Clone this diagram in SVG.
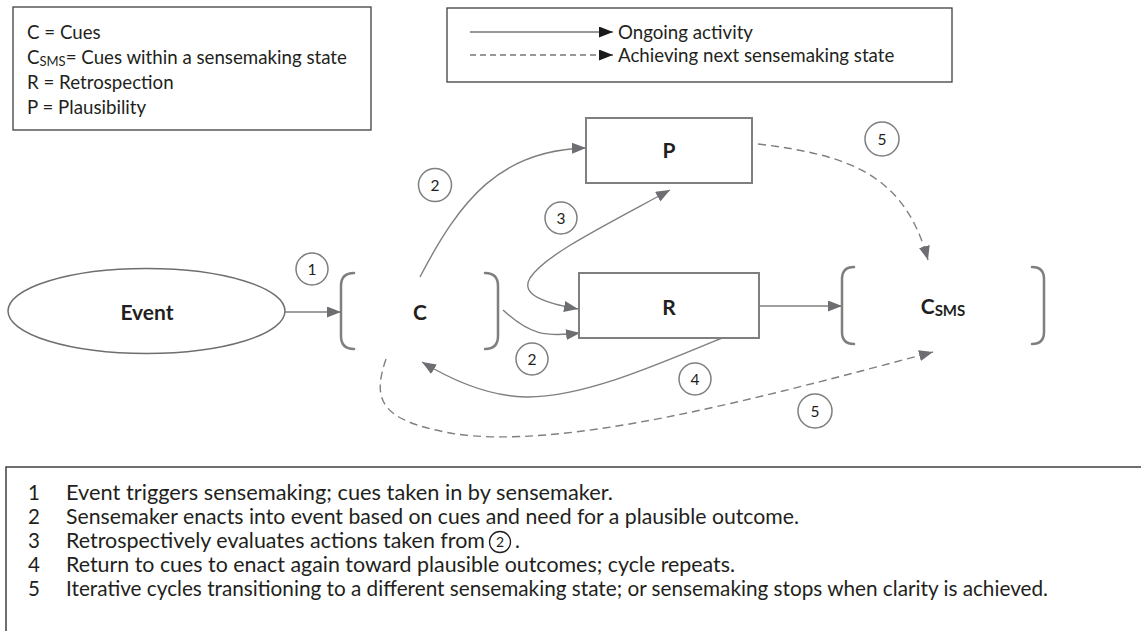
<svg xmlns="http://www.w3.org/2000/svg" width="1141" height="631" viewBox="0 0 1141 631">
<style>
text{font-family:"Lato","Liberation Sans",sans-serif;fill:#231f20}
.leg{font-size:18.7px}
.desc{font-size:20.5px}
.lbl{font-size:21px;font-weight:bold}
.num{font-size:15.5px}
.box{fill:none;stroke:#404040;stroke-width:1.3}
.node{fill:#fff;stroke:#7f7f7f;stroke-width:2}
.br{fill:none;stroke:#7f7f7f;stroke-width:2.5;stroke-linecap:round}
.c{fill:#fff;stroke:#7f7f7f;stroke-width:1.5}
.ln{fill:none;stroke:#7f7f7f;stroke-width:1.4}
.ln.d{stroke-dasharray:8 5}
.lg{fill:none;stroke:#333;stroke-width:1.2}
.ah{marker-end:url(#arr)}
</style>
<defs>
<marker id="arr" markerUnits="userSpaceOnUse" markerWidth="15" markerHeight="12" refX="14" refY="5.5" orient="auto-start-reverse">
<path d="M0,0 L14,5.5 L0,11 z" fill="#6d6e71"/>
</marker>
<marker id="arrk" markerUnits="userSpaceOnUse" markerWidth="15" markerHeight="12" refX="14" refY="5.5" orient="auto">
<path d="M0,0 L14,5.5 L0,11 z" fill="#1a1a1a"/>
</marker>
</defs>
<rect width="1141" height="631" fill="#fff"/>

<g id="legend-symbols">
<rect class="box" x="13" y="7" width="358" height="123"/>
<text class="leg" x="27" y="39">C = Cues</text>
<text class="leg" x="27" y="64">C<tspan font-size="13" dy="2">SMS</tspan><tspan dy="-2">= Cues within a sensemaking state</tspan></text>
<text class="leg" x="27" y="89">R = Retrospection</text>
<text class="leg" x="27" y="114">P = Plausibility</text>
</g>

<g id="legend-lines">
<rect class="box" x="447" y="8" width="505" height="74"/>
<path class="lg" d="M470,32 L613,32" marker-end="url(#arrk)"/>
<path class="lg" d="M470,55 L613,55" style="stroke-dasharray:6 4" marker-end="url(#arrk)"/>
<text class="leg" x="618" y="38.5">Ongoing activity</text>
<text class="leg" x="618" y="61.5">Achieving next sensemaking state</text>
</g>

<g id="connectors">
<path class="ln ah" d="M285,312 L341,312"/>
<path class="ln ah" d="M759,306 L842,306"/>
<path class="ln ah" d="M420,277 C460,200 500,150 586,148"/>
<path class="ln ah" d="M503,310 C530,335 545,337 580,333"/>
<path class="ln" d="M670,190 C600,228 545,255 530,278 C520,295 545,303 578,309" marker-start="url(#arr)" marker-end="url(#arr)"/>
<path class="ln ah" d="M722,338 C650,368 580,398 525,397 C490,396 455,382 422,362"/>
<path class="ln d ah" d="M758,144 C850,155 905,175 928,260"/>
<path class="ln d ah" d="M386,359 C372,400 380,420 450,433 C560,452 760,398 933,352"/>
</g>

<g id="event">
<ellipse cx="146.5" cy="311" rx="138.5" ry="42.5" fill="#fff" stroke="#6d6e71" stroke-width="1.5"/>
<text class="lbl" x="147" y="320" text-anchor="middle">Event</text>
</g>

<g id="cues">
<path class="br" d="M354,273 Q341,273 341,286 L341,336 Q341,349 354,349"/>
<path class="br" d="M485,273 Q498,273 498,286 L498,336 Q498,349 485,349"/>
<text class="lbl" x="420" y="320" text-anchor="middle">C</text>
</g>

<g id="plausibility">
<rect class="node" x="586" y="118" width="166" height="65"/>
<text class="lbl" x="669" y="158" text-anchor="middle">P</text>
</g>

<g id="retrospection">
<rect class="node" x="579" y="273" width="180" height="65"/>
<text class="lbl" x="669" y="315" text-anchor="middle">R</text>
</g>

<g id="csms">
<path class="br" d="M854,267 Q842,267 842,279 L842,332 Q842,344 854,344"/>
<path class="br" d="M1032,267 Q1044,267 1044,279 L1044,332 Q1044,344 1032,344"/>
<text class="lbl" x="943" y="314" text-anchor="middle">C<tspan font-size="15" dy="2">SMS</tspan></text>
</g>

<g id="step-1"><circle class="c" cx="312" cy="269" r="16"/><text class="num" x="312" y="274.5" text-anchor="middle">1</text></g>
<g id="step-2a"><circle class="c" cx="435" cy="185" r="16.5"/><text class="num" x="435" y="190.5" text-anchor="middle">2</text></g>
<g id="step-3"><circle class="c" cx="561" cy="218" r="16"/><text class="num" x="561" y="223.5" text-anchor="middle">3</text></g>
<g id="step-5a"><circle class="c" cx="882" cy="139" r="17"/><text class="num" x="882" y="144.5" text-anchor="middle">5</text></g>
<g id="step-2b"><circle class="c" cx="532" cy="359" r="16"/><text class="num" x="532" y="364.5" text-anchor="middle">2</text></g>
<g id="step-4"><circle class="c" cx="695" cy="379" r="16"/><text class="num" x="695" y="384.5" text-anchor="middle">4</text></g>
<g id="step-5b"><circle class="c" cx="815" cy="411" r="17"/><text class="num" x="815" y="416.5" text-anchor="middle">5</text></g>

<g id="description">
<rect x="6" y="467" width="1150" height="200" fill="none" stroke="#404040" stroke-width="1.5"/>
<text class="desc" x="28" y="500">1</text>
<text class="desc" x="66" y="500" textLength="547" lengthAdjust="spacingAndGlyphs">Event triggers sensemaking; cues taken in by sensemaker.</text>
<text class="desc" x="28" y="524">2</text>
<text class="desc" x="66" y="524" textLength="733" lengthAdjust="spacingAndGlyphs">Sensemaker enacts into event based on cues and need for a plausible outcome.</text>
<text class="desc" x="28" y="548">3</text>
<text class="desc" x="66" y="548" textLength="419" lengthAdjust="spacingAndGlyphs">Retrospectively evaluates actions taken from</text>
<circle cx="500" cy="542" r="10.5" fill="none" stroke="#231f20" stroke-width="1.3"/>
<text x="500" y="547" text-anchor="middle" font-size="14">2</text>
<text class="desc" x="515" y="548">.</text>
<text class="desc" x="28" y="572">4</text>
<text class="desc" x="66" y="572" textLength="669" lengthAdjust="spacingAndGlyphs">Return to cues to enact again toward plausible outcomes; cycle repeats.</text>
<text class="desc" x="28" y="596">5</text>
<text class="desc" x="66" y="596" textLength="982" lengthAdjust="spacingAndGlyphs">Iterative cycles transitioning to a different sensemaking state; or sensemaking stops when clarity is achieved.</text>
</g>
</svg>
